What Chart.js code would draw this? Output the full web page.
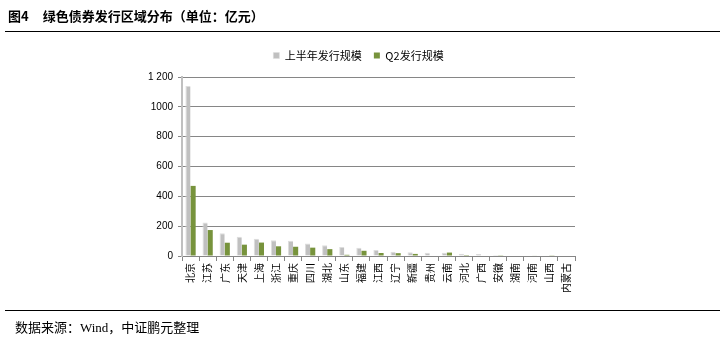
<!DOCTYPE html>
<html>
<head>
<meta charset="utf-8">
<script src="https://cdn.jsdelivr.net/npm/chart.js@4"></script>
<style>
  body { margin: 0; background: #fff; }
  #wrap { position: relative; width: 727px; height: 340px; overflow: hidden; }
  #c { position: absolute; left: 0; top: 0; }
  .title { position: absolute; left: 8px; top: 6px; font: bold 13px "Noto Sans CJK SC", sans-serif; color: #000; white-space: pre; }
  .title span { margin-left: 14px; }
  .rule { position: absolute; left: 5px; width: 715px; height: 0; border-top: 1.5px solid #000; }
  .src { position: absolute; left: 15px; top: 317px; font: 13px "Liberation Serif", "Noto Sans CJK SC", serif; color: #000; }
</style>
</head>
<body>
<div id="wrap">
  <canvas id="c" width="727" height="340"></canvas>
  <div class="title">图4<span>绿色债券发行区域分布（单位：亿元）</span></div>
  <div class="rule" style="top:31px"></div>
  <div class="rule" style="top:310px"></div>
  <div class="src">数据来源：Wind，中证鹏元整理</div>
</div>
<script>
document.addEventListener('DOMContentLoaded', function(){

  // data
  const regions = ['北京','江苏','广东','天津','上海','浙江','重庆','四川','湖北','山东','福建',
                   '江西','辽宁','新疆','贵州','云南','河北','广西','安徽','湖南','河南','山西','内蒙古'];
  const halfYear = [1140, 224, 153, 129, 116, 106, 103, 84, 72, 60, 55, 41, 29, 25, 21, 22, 15, 14, 7, 4, 4, 3, 3];
  const q2 = [470, 174, 89, 76, 90, 65, 62, 56, 46, 8, 35, 20, 19, 14, 0, 23, 6, 0, 5, 0, 3, 2, 0];
  const yTickLabels = ['0', '200', '400', '600', '800', '1000', '1 200'];

  // a bit more room under the legend
  const legendSpace = {
    id: 'legendSpace',
    beforeInit(chart) {
      const fit = chart.legend.fit;
      chart.legend.fit = function() {
        fit.bind(chart.legend)();
        this.height += 6;
      };
    }
  };

  new Chart(document.getElementById('c'), {
    type: 'bar',
    data: {
      labels: regions,
      datasets: [{
        label: '上半年发行规模',
        data: halfYear,
        backgroundColor: '#C0C0C0',
        borderColor: '#DDDDDD',
        borderWidth: {top: 1, left: 1, right: 0, bottom: 0},
        categoryPercentage: 0.6,
        barPercentage: 1.0
      }, {
        label: 'Q2发行规模',
        data: q2,
        backgroundColor: '#77933C',
        categoryPercentage: 0.6,
        barPercentage: 1.0
      }]
    },
    options: {
      responsive: false,
      animation: false,
      layout: { padding: { left: 142, right: 152, top: 38, bottom: 34 } },
      plugins: {
        legend: {
          position: 'top',
          labels: {
            boxWidth: 6,
            boxHeight: 6,
            padding: 12,
            color: '#000',
            font: { family: '"Noto Sans CJK SC", sans-serif', size: 11 }
          }
        },
        tooltip: { enabled: false }
      },
      scales: {
        x: {
          afterFit(scale) { scale.height = 50; },
          grid: { drawOnChartArea: false, color: '#868686', tickLength: 5 },
          border: { color: '#868686', width: 1 },
          ticks: {
            autoSkip: false,
            maxRotation: 90,
            minRotation: 90,
            padding: 2,
            color: '#000',
            font: { family: '"Noto Sans CJK SC", sans-serif', size: 10 }
          }
        },
        y: {
          min: 0,
          max: 1200,
          afterFit(scale) { scale.width = 40; },
          grid: { color: '#868686', tickLength: 4 },
          border: { color: '#C0C0C0', width: 2 },
          ticks: {
            stepSize: 200,
            padding: 5,
            color: '#000',
            font: { family: '"Liberation Sans", Arial, sans-serif', size: 10 },
            callback: function(v){ return yTickLabels[v / 200]; }
          }
        }
      }
    },
    plugins: [legendSpace]
  });

})
</script>
</body>
</html>
